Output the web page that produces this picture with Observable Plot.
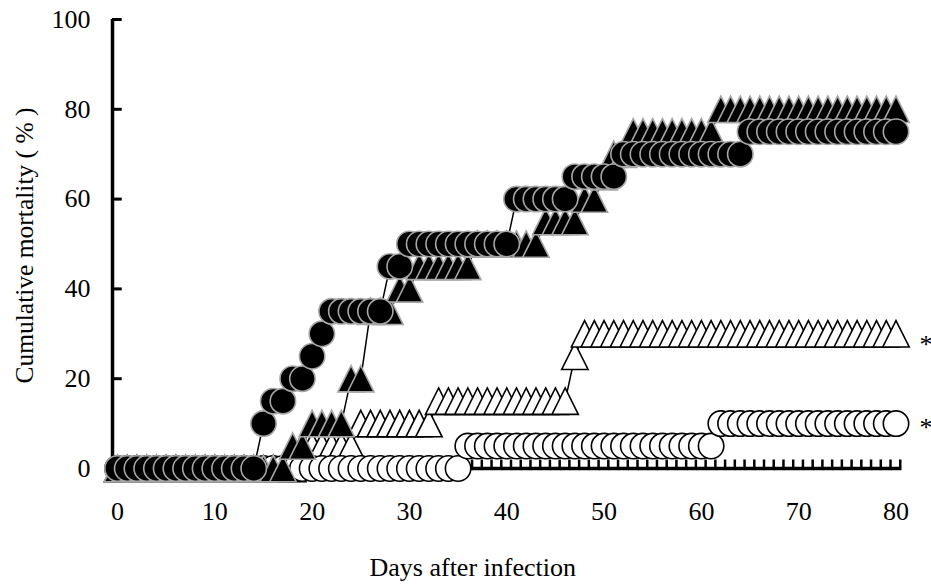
<!DOCTYPE html>
<html>
<head>
<meta charset="utf-8">
<script src="https://cdn.jsdelivr.net/npm/d3@7"></script>
<script src="https://cdn.jsdelivr.net/npm/@observablehq/plot@0.6"></script>
<style>
  html, body { margin: 0; padding: 0; background: #fff; }
  #chart svg { display: block; overflow: visible; }
</style>
</head>
<body>
<div id="chart"></div>
<script>
// ---------- data ----------
const days = d3.range(0, 81);
const xTicks = [0, 10, 20, 30, 40, 50, 60, 70, 80];
const yTicks = [0, 20, 40, 60, 80, 100];
const xLabel = "Days after infection";
const yLabel = "Cumulative mortality ( % )";

// filled circles
const filledCircles = [
  0, 0, 0, 0, 0, 0, 0, 0, 0, 0,
  0, 0, 0, 0, 0, 10, 15, 15, 20, 20,
  25, 30, 35, 35, 35, 35, 35, 35, 45, 45,
  50, 50, 50, 50, 50, 50, 50, 50, 50, 50,
  50, 60, 60, 60, 60, 60, 60, 65, 65, 65,
  65, 65, 70, 70, 70, 70, 70, 70, 70, 70,
  70, 70, 70, 70, 70, 75, 75, 75, 75, 75,
  75, 75, 75, 75, 75, 75, 75, 75, 75, 75,
  75
];
// filled triangles
const filledTriangles = [
  0, 0, 0, 0, 0, 0, 0, 0, 0, 0,
  0, 0, 0, 0, 0, 0, 0, 0, 5, 5,
  10, 10, 10, 10, 20, 20, 35, 35, 35, 40,
  40, 45, 45, 45, 45, 45, 45, 50, 50, 50,
  50, 50, 50, 50, 55, 55, 55, 55, 60, 60,
  65, 70, 70, 75, 75, 75, 75, 75, 75, 75,
  75, 75, 80, 80, 80, 80, 80, 80, 80, 80,
  80, 80, 80, 80, 80, 80, 80, 80, 80, 80,
  80
];
// open triangles
const openTriangles = [
  0, 0, 0, 0, 0, 0, 0, 0, 0, 0,
  0, 0, 0, 0, 0, 0, 0, 0, 0, 5,
  5, 5, 5, 5, 5, 10, 10, 10, 10, 10,
  10, 10, 10, 15, 15, 15, 15, 15, 15, 15,
  15, 15, 15, 15, 15, 15, 15, 25, 30, 30,
  30, 30, 30, 30, 30, 30, 30, 30, 30, 30,
  30, 30, 30, 30, 30, 30, 30, 30, 30, 30,
  30, 30, 30, 30, 30, 30, 30, 30, 30, 30,
  30
];
// open circles
const openCircles = [
  0, 0, 0, 0, 0, 0, 0, 0, 0, 0,
  0, 0, 0, 0, 0, 0, 0, 0, 0, 0,
  0, 0, 0, 0, 0, 0, 0, 0, 0, 0,
  0, 0, 0, 0, 0, 0, 5, 5, 5, 5,
  5, 5, 5, 5, 5, 5, 5, 5, 5, 5,
  5, 5, 5, 5, 5, 5, 5, 5, 5, 5,
  5, 5, 10, 10, 10, 10, 10, 10, 10, 10,
  10, 10, 10, 10, 10, 10, 10, 10, 10, 10,
  10
];
// control (dash markers)
const control = [
  0, 0, 0, 0, 0, 0, 0, 0, 0, 0,
  0, 0, 0, 0, 0, 0, 0, 0, 0, 0,
  0, 0, 0, 0, 0, 0, 0, 0, 0, 0,
  0, 0, 0, 0, 0, 0, 0, 0, 0, 0,
  0, 0, 0, 0, 0, 0, 0, 0, 0, 0,
  0, 0, 0, 0, 0, 0, 0, 0, 0, 0,
  0, 0, 0, 0, 0, 0, 0, 0, 0, 0,
  0, 0, 0, 0, 0, 0, 0, 0, 0, 0,
  0
];
// significance marks at the right end
const noteLabels = ["*", "*"];
const noteDays = [80, 80];
const noteValues = [27.5, 9];

// ---------- build ----------
const toRows = (vals) => days.map((d, i) => ({day: d, value: vals[i]}));
const notes = noteLabels.map((t, i) => ({day: noteDays[i], value: noteValues[i], label: t}));

const triangle = {
  draw(ctx, size) {
    const r = Math.sqrt(size / Math.PI);
    ctx.moveTo(0, -r);
    ctx.lineTo(r, r);
    ctx.lineTo(-r, r);
    ctx.closePath();
  }
};
const dashTick = {
  draw(ctx) {
    ctx.moveTo(-5, -1.75); ctx.lineTo(5.5, -1.75); ctx.lineTo(5.5, 1.75); ctx.lineTo(-5, 1.75); ctx.closePath();
    ctx.moveTo(3, -9); ctx.lineTo(5.5, -9); ctx.lineTo(5.5, 0); ctx.lineTo(3, 0); ctx.closePath();
  }
};

const FONT = '"Times New Roman", "Liberation Serif", serif';
const FS = 26;

function series(vals, symbol, r, fill, stroke) {
  const data = toRows(vals);
  return [
    Plot.line(data, {x: "day", y: "value", stroke: "black", strokeWidth: 1.5}),
    Plot.dot(data, {x: "day", y: "value", symbol, r, fill, stroke, strokeWidth: 1.6})
  ];
}

const chart = Plot.plot({
  width: 931,
  height: 584,
  marginLeft: 117,
  marginRight: 35.5,
  marginTop: 19,
  marginBottom: 116,
  style: {fontFamily: FONT, fontSize: FS + "px", background: "#fff", color: "#000"},
  x: {domain: [0, 80]},
  y: {domain: [0, 100]},
  marks: [
    // y axis line + inward ticks
    Plot.ruleX([0], {y1: 0, y2: 100, dx: -5, stroke: "black", strokeWidth: 3.5}),
    Plot.ruleY(yTicks, {y: d => d, x1: 0, x2: 1, dx: -5, stroke: "black", strokeWidth: 3}),
    Plot.axisY({ticks: yTicks, tickSize: 0, tickPadding: 27, label: null, fontSize: FS}),
    Plot.axisX({ticks: xTicks, tickSize: 0, tickPadding: 33, label: null, fontSize: FS}),
    Plot.text([xLabel], {frameAnchor: "bottom", lineAnchor: "middle", textAnchor: "middle", dy: 99, dx: -34, fontSize: FS, fill: "black"}),
    Plot.text([yLabel], {frameAnchor: "left", rotate: -90, textAnchor: "middle", lineAnchor: "middle", dx: -92.5, dy: 1.5, fontSize: 25.5, fill: "black"}),
    // series
    Plot.dot(toRows(control), {x: "day", y: "value", symbol: dashTick, r: 5, fill: "black", stroke: "none"}),
    ...series(openTriangles, triangle, 13.2, "white", "black"),
    ...series(openCircles, "circle", 12.7, "white", "black"),
    ...series(filledTriangles, triangle, 13.2, "black", "#a6a6a6"),
    ...series(filledCircles, "circle", 12.7, "black", "#a6a6a6"),
    // notes
    Plot.text(notes, {x: "day", y: "value", text: "label", dx: 23.5, textAnchor: "start", fontSize: FS, fill: "black"})
  ]
});
document.getElementById("chart").appendChild(chart);
</script>
</body>
</html>
